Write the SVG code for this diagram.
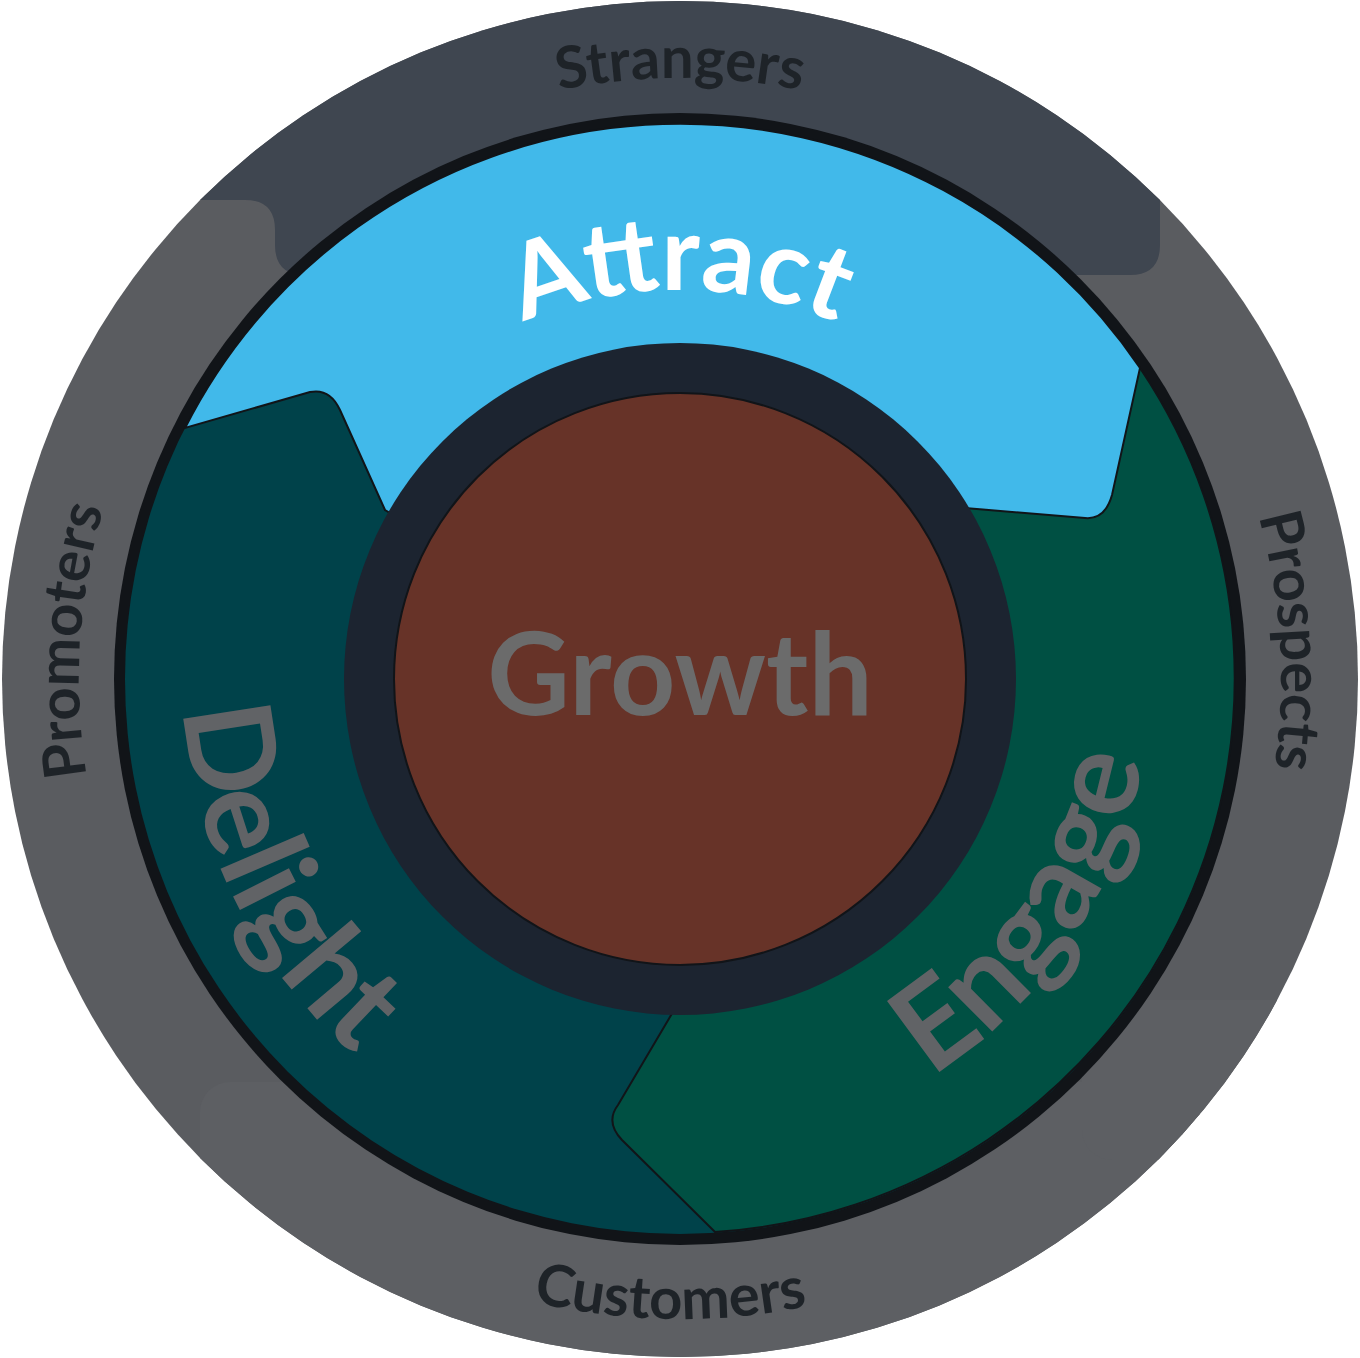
<svg xmlns="http://www.w3.org/2000/svg" width="1360" height="1358" viewBox="0 0 1360 1358">
<style>
.lbl{font-family:Lato,"Open Sans","Liberation Sans",sans-serif;font-weight:700}
.ring{fill:#1e2328;font-size:58px}
.big{fill:#616366;font-size:122px}
</style>
<defs>
<clipPath id="outer"><circle cx="680" cy="679" r="678"/></clipPath>
<path id="cw" d="M 680 1280 A 601 601 0 1 1 680 78 A 601 601 0 1 1 680 1280"/>
<path id="ccwC" d="M 40 679 A 640 640 0 0 0 1320 679"/>
<path id="cwA" d="M 291 679 A 389 389 0 1 1 1069 679 A 389 389 0 1 1 291 679"/>
<path id="ccwD" d="M 680 182 A 497 497 0 1 0 680 1176 A 497 497 0 1 0 680 182"/>
<path id="ccwE" d="M 680 209 A 470 470 0 1 0 680 1149 A 470 470 0 1 0 680 209"/>
</defs>
<g id="outer-ring" clip-path="url(#outer)">
<rect x="0" y="0" width="1360" height="1358" fill="#5a5c60"/>
<rect x="200" y="1082" width="1000" height="300" rx="30" fill="#5d5f63"/>
<rect x="1082" y="1000" width="300" height="160" rx="30" fill="#5d5f63"/>
<path d="M0 0 H1360 V200 H1160 V245 Q1160 275 1130 275 H305 Q275 275 275 245 V230 Q275 200 245 200 H0 Z" fill="#3f4650"/>
</g>
<g id="ring-labels" class="lbl ring">
<text text-anchor="middle"><textPath href="#cw" startOffset="26%">Promoters</textPath></text>
<text text-anchor="middle"><textPath href="#cw" startOffset="50%">Strangers</textPath></text>
<text text-anchor="middle"><textPath href="#cw" startOffset="74%">Prospects</textPath></text>
<text text-anchor="middle"><textPath href="#ccwC" startOffset="49.5%">Customers</textPath></text>
</g>
<g id="wheel">
<circle cx="680" cy="679" r="566" fill="#111418"/>
<circle cx="680" cy="679" r="555" fill="#00424a"/>
</g>
<g id="engage">
<path d="M 1140 368 A 555 555 0 0 1 715 1232 L 622 1140 Q 605 1122 618 1105 L 680 1000 L 680 679 L 960 505 Z" fill="#005043" stroke="#111418" stroke-width="2"/>
</g>
<g id="attract">
<path d="M 185 428 A 555 555 0 0 1 1140 368 L 1112 495 Q 1105 520 1085 518 L 965 508 L 680 679 L 385 510 L 340 410 Q 330 388 310 392 Z" fill="#41b9ea" stroke="#111418" stroke-width="2"/>
</g>
<g id="growth">
<circle cx="680" cy="679" r="336" fill="#1c2430"/>
<circle cx="680" cy="679" r="286" fill="#673328" stroke="#111418" stroke-width="2"/>
<text x="680" y="715" text-anchor="middle" class="lbl" font-size="114" fill="#6b6b6b">Growth</text>
</g>
<g id="segment-labels" class="lbl">
<text text-anchor="middle" font-size="104" fill="#ffffff"><textPath href="#cwA" startOffset="25%">Attract</textPath></text>
<text text-anchor="middle" class="big"><textPath href="#ccwD" startOffset="32.3%">Delight</textPath></text>
<text text-anchor="middle" class="big"><textPath href="#ccwE" startOffset="65.6%">Engage</textPath></text>
</g>
</svg>
